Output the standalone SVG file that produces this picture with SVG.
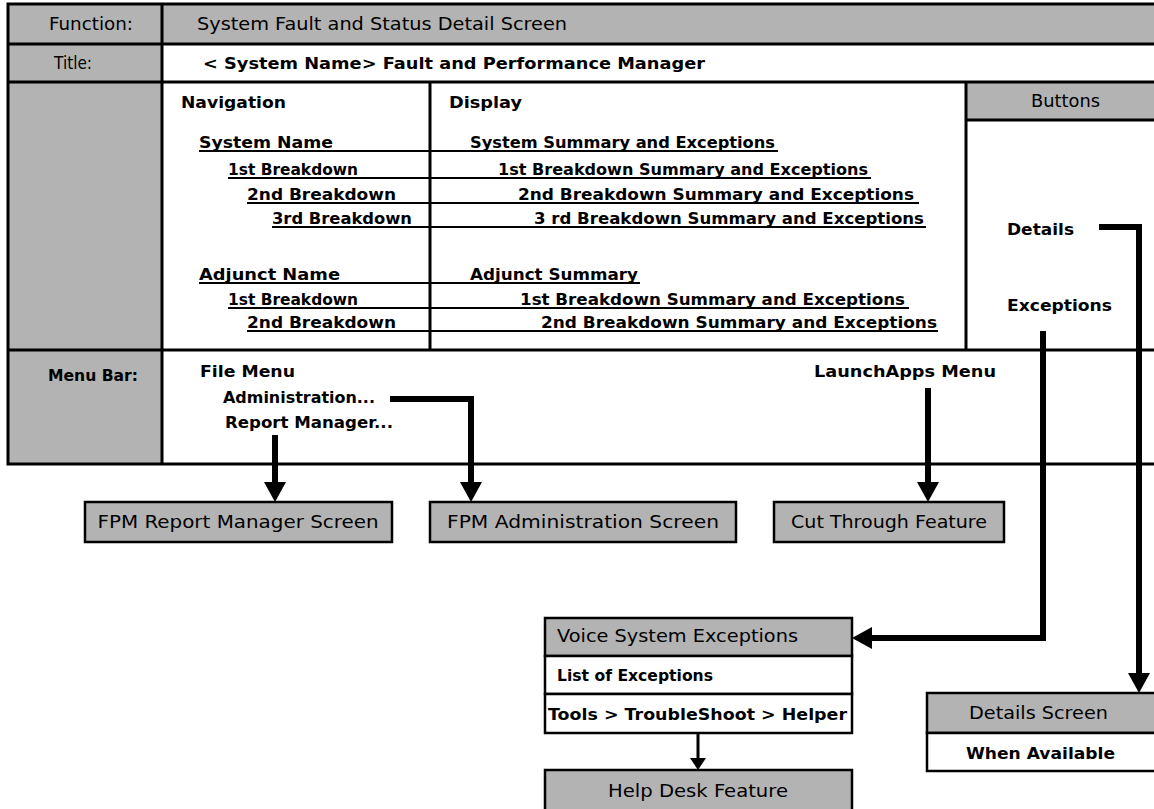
<svg xmlns="http://www.w3.org/2000/svg" width="1154" height="809" viewBox="0 0 1154 809">
<defs>
<style>
.g{fill:#b3b3b3}
.w{fill:#fff}
.bd{stroke:#000;stroke-width:3;fill:none}
.bx{stroke:#000;stroke-width:2.5}
.ul{stroke:#000;stroke-width:2;fill:none}
.t{font-family:"DejaVu Sans","Liberation Sans",sans-serif;font-size:17px;fill:#000}
.b{font-weight:bold;font-size:16.5px}
.m{text-anchor:middle}
.c{stroke:#000;stroke-width:6;fill:none}
.c2{stroke:#000;stroke-width:3;fill:none}
</style>
<marker id="ah" markerUnits="userSpaceOnUse" markerWidth="20" markerHeight="22" refX="0" refY="11" orient="auto" viewBox="0 0 20 22"><path d="M0,0 L20,11 L0,22 z" fill="#000"/></marker>
<marker id="ahs" markerUnits="userSpaceOnUse" markerWidth="12" markerHeight="16" refX="0" refY="8" orient="auto" viewBox="0 0 12 16"><path d="M0,0 L12,8 L0,16 z" fill="#000"/></marker>
</defs>
<rect x="0" y="0" width="1154" height="809" fill="#fff"/>

<g id="screen-table">
<rect x="8" y="4" width="1160" height="460" class="w"/>
<rect x="8" y="4" width="1160" height="40" class="g"/>
<rect x="8" y="44" width="154" height="420" class="g"/>
<rect x="966" y="82" width="200" height="38" class="g"/>
<rect x="8" y="4" width="1160" height="460" class="bd"/>
<path class="bd" d="M8,44H1160 M8,82H1160 M8,350H1160 M162,4V464 M430,82V350 M966,82V350 M966,120H1160"/>
<text class="t" x="49" y="30" textLength="84" lengthAdjust="spacingAndGlyphs">Function:</text>
<text class="t" x="197" y="30" textLength="370" lengthAdjust="spacingAndGlyphs">System Fault and Status Detail Screen</text>
<text class="t" x="54" y="69" textLength="38" lengthAdjust="spacingAndGlyphs">Title:</text>
<text class="t b" x="203" y="69" textLength="502" lengthAdjust="spacingAndGlyphs">&lt; System Name&gt; Fault and Performance Manager</text>
<text class="t b" x="181" y="108" textLength="105" lengthAdjust="spacingAndGlyphs">Navigation</text>
<text class="t b" x="449" y="108" textLength="73" lengthAdjust="spacingAndGlyphs">Display</text>
<text class="t" x="1031" y="107" textLength="69" lengthAdjust="spacingAndGlyphs">Buttons</text>
</g>

<g id="navigation-display">
<path class="ul" d="M199,151H778 M228,178H871 M247,203H919 M272,227H926 M199,283H640 M228,308H909 M247,331H938"/>
<text class="t b" x="199" y="148" textLength="134" lengthAdjust="spacingAndGlyphs">System Name</text>
<text class="t b" x="228" y="175" textLength="130" lengthAdjust="spacingAndGlyphs">1st Breakdown</text>
<text class="t b" x="247" y="200" textLength="149" lengthAdjust="spacingAndGlyphs">2nd Breakdown</text>
<text class="t b" x="272" y="224" textLength="140" lengthAdjust="spacingAndGlyphs">3rd Breakdown</text>
<text class="t b" x="199" y="280" textLength="141" lengthAdjust="spacingAndGlyphs">Adjunct Name</text>
<text class="t b" x="228" y="305" textLength="130" lengthAdjust="spacingAndGlyphs">1st Breakdown</text>
<text class="t b" x="247" y="328" textLength="149" lengthAdjust="spacingAndGlyphs">2nd Breakdown</text>
<text class="t b" x="470" y="148" textLength="305" lengthAdjust="spacingAndGlyphs">System Summary and Exceptions</text>
<text class="t b" x="498" y="175" textLength="370" lengthAdjust="spacingAndGlyphs">1st Breakdown Summary and Exceptions</text>
<text class="t b" x="518" y="200" textLength="396" lengthAdjust="spacingAndGlyphs">2nd Breakdown Summary and Exceptions</text>
<text class="t b" x="534" y="224" textLength="390" lengthAdjust="spacingAndGlyphs">3 rd Breakdown Summary and Exceptions</text>
<text class="t b" x="470" y="280" textLength="168" lengthAdjust="spacingAndGlyphs">Adjunct Summary</text>
<text class="t b" x="520" y="305" textLength="385" lengthAdjust="spacingAndGlyphs">1st Breakdown Summary and Exceptions</text>
<text class="t b" x="541" y="328" textLength="396" lengthAdjust="spacingAndGlyphs">2nd Breakdown Summary and Exceptions</text>
</g>

<g id="buttons">
<text class="t b" x="1007" y="235" textLength="67" lengthAdjust="spacingAndGlyphs">Details</text>
<text class="t b" x="1007" y="311" textLength="105" lengthAdjust="spacingAndGlyphs">Exceptions</text>
</g>

<g id="menu-bar">
<text class="t b" x="48" y="381" textLength="90" lengthAdjust="spacingAndGlyphs">Menu Bar:</text>
<text class="t b" x="200" y="377" textLength="95" lengthAdjust="spacingAndGlyphs">File Menu</text>
<text class="t b" x="223" y="403" textLength="152" lengthAdjust="spacingAndGlyphs">Administration...</text>
<text class="t b" x="225" y="428" textLength="168" lengthAdjust="spacingAndGlyphs">Report Manager...</text>
<text class="t b" x="814" y="377" textLength="182" lengthAdjust="spacingAndGlyphs">LaunchApps Menu</text>
</g>

<g id="fpm-report-manager-screen">
<rect x="85" y="502" width="307" height="40" class="g bx"/>
<text class="t m" x="238" y="528" textLength="281" lengthAdjust="spacingAndGlyphs">FPM Report Manager Screen</text>
</g>
<g id="fpm-administration-screen">
<rect x="430" y="502" width="306" height="40" class="g bx"/>
<text class="t m" x="583" y="528" textLength="272" lengthAdjust="spacingAndGlyphs">FPM Administration Screen</text>
</g>
<g id="cut-through-feature">
<rect x="774" y="502" width="230" height="40" class="g bx"/>
<text class="t m" x="889" y="528" textLength="196" lengthAdjust="spacingAndGlyphs">Cut Through Feature</text>
</g>

<g id="voice-system-exceptions">
<rect x="545" y="618" width="307" height="38" class="g bx"/>
<rect x="545" y="656" width="307" height="38" class="w bx"/>
<rect x="545" y="694" width="307" height="39" class="w bx"/>
<text class="t" x="557" y="642" textLength="241" lengthAdjust="spacingAndGlyphs">Voice System Exceptions</text>
<text class="t b" x="557" y="681" textLength="156" lengthAdjust="spacingAndGlyphs">List of Exceptions</text>
<text class="t b" x="548" y="720" textLength="299" lengthAdjust="spacingAndGlyphs">Tools &gt; TroubleShoot &gt; Helper</text>
</g>

<g id="help-desk-feature">
<rect x="545" y="770" width="307" height="50" class="g bx"/>
<text class="t m" x="698" y="797" textLength="180" lengthAdjust="spacingAndGlyphs">Help Desk Feature</text>
</g>

<g id="details-screen">
<rect x="927" y="693" width="240" height="40" class="g bx"/>
<rect x="927" y="733" width="240" height="38" class="w bx"/>
<text class="t" x="969" y="719" textLength="139" lengthAdjust="spacingAndGlyphs">Details Screen</text>
<text class="t b" x="966" y="759" textLength="149" lengthAdjust="spacingAndGlyphs">When Available</text>
</g>

<g id="connectors">
<path class="c" d="M275,435V482" marker-end="url(#ah)"/>
<path class="c" d="M390,399H471V482" marker-end="url(#ah)"/>
<path class="c" d="M928,388V482" marker-end="url(#ah)"/>
<path class="c" d="M1099,227H1139V673" marker-end="url(#ah)"/>
<path class="c" d="M1043,331V638H872" marker-end="url(#ah)"/>
<path class="c2" d="M698,733V758" marker-end="url(#ahs)"/>
</g>
</svg>
